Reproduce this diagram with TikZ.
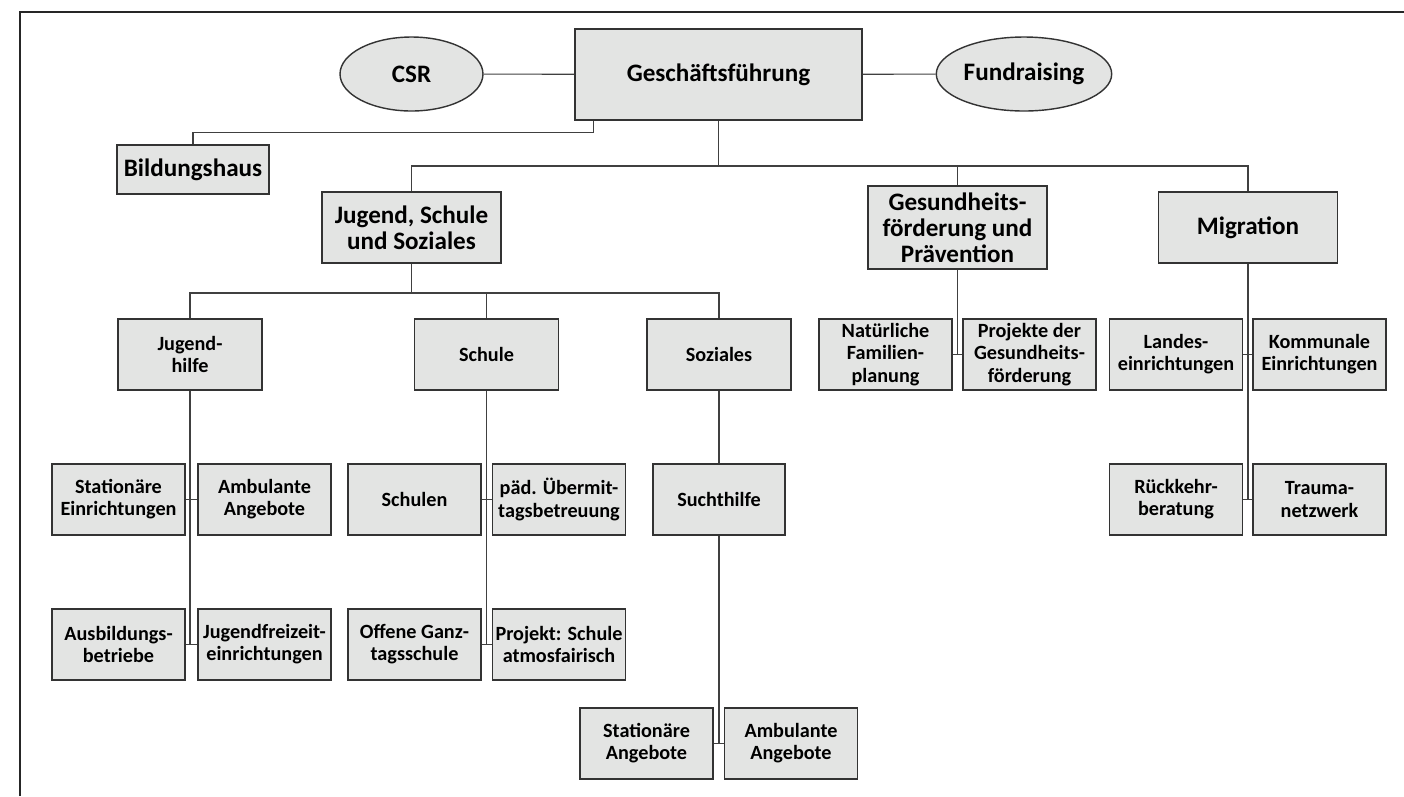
\documentclass[tikz,border=0pt]{standalone}
\usepackage{fontspec}
\setmainfont{Carlito}
\usetikzlibrary{shapes.geometric}
\definecolor{boxgray}{RGB}{227,228,227}
\tikzset{
	org/.style={
		draw=black!80,
		fill=boxgray,
		line width=0.8pt,
		align=center,
		inner sep=1pt,
		font=\bfseries\fontsize{11.5}{12.6}\selectfont,
	},
	unit/.style={
		org,
		minimum width=2.66cm,
		minimum height=1.42cm,
	},
	dept/.style={
		org,
		minimum width=2.88cm,
		minimum height=1.42cm,
	},
	area/.style={
		org,
		minimum width=3.58cm,
		minimum height=1.42cm,
		font=\bfseries\fontsize{14.3}{14.8}\selectfont,
	},
	staff/.style={
		area,
		ellipse,
		minimum width=2.86cm,
		minimum height=1.48cm,
	},
	link/.style={
		line width=0.6pt,
		draw=black!75,
	},
	frame/.style={
		line width=0.7pt,
		draw=black!85,
	},
}

\begin{document}
\begin{tikzpicture}[
		x=0.02cm, y=-0.02cm,
		top/.style={area, minimum width=5.74cm, minimum height=1.82cm},
	]
		\useasboundingbox (0,0) rectangle (1404,796);
		\draw[frame] (20,796) -- (20,12) -- (1404,12);

		\node[top]   (gf)     at (718.5,74.5) {Geschäftsführung};
		\node[staff] (csr)    at (411.5,74)   {CSR};
		\node[staff] (fund)   at (1024,74)    {Fundraising};
		\node[area, minimum width=3.04cm, minimum height=0.98cm] (bild) at (193,169.5) {Bildungshaus};

		\node[area] (jss)    at (411.5,227.5) {Jugend, Schule\\und Soziales};
		\node[area, minimum height=1.66cm] (gesund) at (957.5,227.5) {Gesundheits-\\förderung und\\Prävention};
		\node[area] (migr)   at (1248,227.5)  {Migration};

		\node[dept] (jhilfe) at (190,354.5)   {Jugend-\\hilfe};
		\node[dept] (schule) at (486.5,354.5) {Schule};
		\node[dept] (soz)    at (719,354.5)   {Soziales};

		\node[unit] (statein) at (118.5,499.5) {Stationäre\\Einrichtungen};
		\node[unit] (ambang)  at (264.5,499.5) {Ambulante\\Angebote};
		\node[unit] (ausb)    at (118.5,644.5) {Ausbildungs-\\betriebe};
		\node[unit] (jfz)     at (264.5,644.5) {Jugendfreizeit-\\einrichtungen};

		\node[unit] (schulen) at (414.5,499.5) {Schulen};
		\node[unit] (paed)    at (559,499.5)   {päd. Übermit-\\tagsbetreuung};
		\node[unit] (ogs)     at (414.5,644.5) {Offene Ganz-\\tagsschule};
		\node[unit] (projekt) at (559,644.5)   {Projekt: Schule\\atmosfairisch};

		\node[unit, minimum width=2.64cm] (sucht) at (719,499.5) {Suchthilfe};
		\node[unit] (statang) at (646.5,743.5) {Stationäre\\Angebote};
		\node[unit] (ambsucht) at (791,743.5)  {Ambulante\\Angebote};

		\node[unit] (nfp)     at (885.5,354.5)  {Natürliche\\Familien-\\planung};
		\node[unit] (pdg)     at (1029.5,354.5) {Projekte der\\Gesundheits-\\förderung};

		\node[unit] (landes)  at (1176,354.5)   {Landes-\\einrichtungen};
		\node[unit] (komm)    at (1319.5,354.5) {Kommunale\\Einrichtungen};
		\node[unit] (rueck)   at (1176,499.5)   {Rückkehr-\\beratung};
		\node[unit] (trauma)  at (1319.5,499.5) {Trauma-\\netzwerk};

		\coordinate (bus1) at (0,166);
		\coordinate (bus2) at (0,293);

		\draw[link] (csr) -- (gf);
		\draw[link] (gf) -- (fund);
		\draw[link] ([xshift=0.38cm]gf.south west) -- ++(0,12) -| (bild.north);

		\draw[link] (gf.south) -- (gf.south |- bus1);
		\draw[link] (jss.north) |- (bus1 -| migr) -- (migr.north);
		\draw[link] (gesund.north) -- (gesund.north |- bus1);

		\draw[link] (jss.south) -- (jss.south |- bus2);
		\draw[link] (jhilfe.north) |- (bus2 -| soz) -- (soz.north);
		\draw[link] (schule.north) -- (schule.north |- bus2);

		\draw[link] (jhilfe.south) -- (jhilfe.south |- ausb.east);
		\draw[link] (statein) -- (ambang);
		\draw[link] (ausb) -- (jfz);

		\draw[link] (schule.south) -- (schule.south |- ogs.east);
		\draw[link] (schulen) -- (paed);
		\draw[link] (ogs) -- (projekt);

		\draw[link] (soz) -- (sucht);
		\draw[link] (sucht.south) -- (sucht.south |- statang.east);
		\draw[link] (statang) -- (ambsucht);

		\draw[link] (gesund.south) -- (gesund.south |- nfp.east);
		\draw[link] (nfp) -- (pdg);

		\draw[link] (migr.south) -- (migr.south |- rueck.east);
		\draw[link] (landes) -- (komm);
		\draw[link] (rueck) -- (trauma);
	\end{tikzpicture}
\end{document}
